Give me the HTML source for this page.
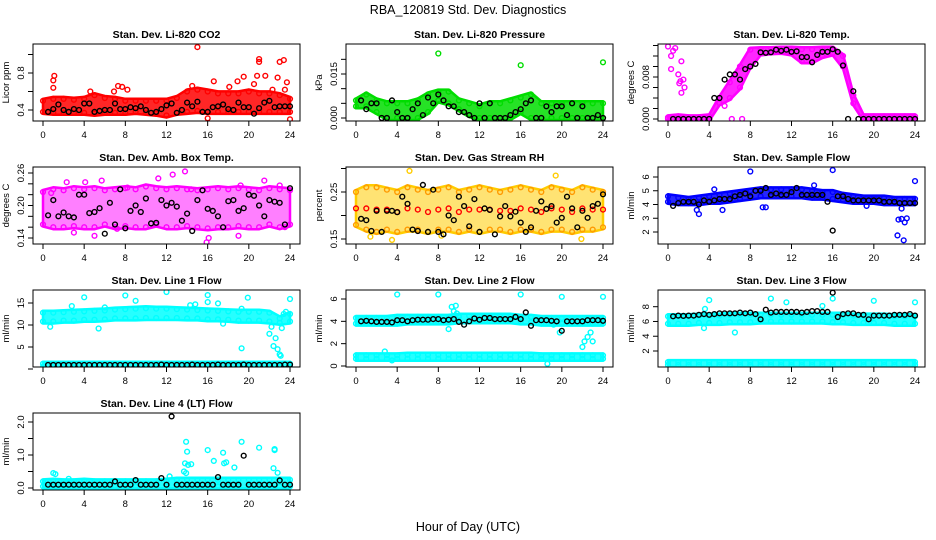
<!DOCTYPE html>
<html><head><meta charset="utf-8"><title>RBA_120819 Std. Dev. Diagnostics</title>
<style>
html,body{margin:0;padding:0;background:#fff;}
svg{display:block;font-family:"Liberation Sans",sans-serif;}
</style></head>
<body>
<svg id="chart" width="936" height="540" viewBox="0 0 936 540" xmlns="http://www.w3.org/2000/svg">
<text x="468" y="14" text-anchor="middle" font-size="12.5">RBA_120819  Std. Dev. Diagnostics</text>
<text x="468" y="531" text-anchor="middle" font-size="12.5">Hour of Day (UTC)</text>
</svg>
<script>
// ---------- data ----------
const xTicks=[0,4,8,12,16,20,24];
const titles=["Stan. Dev. Li-820 CO2","Stan. Dev. Li-820 Pressure","Stan. Dev. Li-820 Temp.","Stan. Dev. Amb. Box Temp.","Stan. Dev. Gas Stream RH","Stan. Dev. Sample Flow","Stan. Dev. Line 1 Flow","Stan. Dev. Line 2 Flow","Stan. Dev. Line 3 Flow","Stan. Dev. Line 4 (LT) Flow"];
const yTitles=["Licor ppm","kPa","degrees C","degrees C","percent","ml/min","ml/min","ml/min","ml/min","ml/min"];
const yTicks=[[0.4,0.6,0.8,1.0],[0,0.005,0.01,0.015,0.02],[0,0.002,0.004,0.006,0.008,0.010,0.012,0.014],[0.14,0.16,0.18,0.20,0.22,0.24,0.26],[0.15,0.20,0.25,0.30],[2,3,4,5,6],[0,5,10,15],[0,2,4,6],[2,4,6,8],[0,0.5,1.0,1.5,2.0]];
const yTickLabels=[["0.4","","0.8",""],["0.000","","","0.015",""],["0.000","","","","0.008","","",""],["0.14","","","0.20","","","0.26"],["0.15","","0.25",""],["2","3","4","5","6"],["","5","10","15"],["0","2","4","6"],["2","4","6","8"],["0.0","","1.0","","2.0"]];
// hourly band envelopes (hour 0..24)
const bandLo=[
[0.38,0.37,0.37,0.37,0.37,0.36,0.37,0.37,0.37,0.38,0.37,0.36,0.34,0.37,0.38,0.39,0.38,0.38,0.38,0.38,0.38,0.38,0.38,0.38,0.38],
[0.004,0.004,0.002,0,0,0,0,0.002,0.006,0.005,0.003,0.001,0,0,0,0,0.002,0,0,0,0,0,0,0,0],
[0,0,0,0,0,0.003,0.004,0.006,0.010,0.0125,0.0127,0.0128,0.0125,0.0110,0.011,0.012,0.0125,0.010,0.003,0,0,0,0,0,0],
[0.165,0.16,0.16,0.162,0.16,0.16,0.165,0.16,0.162,0.16,0.16,0.165,0.16,0.16,0.162,0.16,0.158,0.16,0.16,0.162,0.16,0.16,0.165,0.16,0.165],
[0.18,0.17,0.165,0.17,0.165,0.17,0.17,0.165,0.17,0.17,0.165,0.17,0.165,0.17,0.17,0.165,0.17,0.17,0.165,0.17,0.17,0.165,0.17,0.17,0.175],
[4.2,4.1,4.1,4.1,4.2,4.2,4.3,4.4,4.5,4.6,4.6,4.6,4.6,4.6,4.5,4.5,4.4,4.3,4.2,4.2,4.2,4.1,4.1,4.1,4.1],
[10.8,10.8,11,11,11.2,11.2,11.3,11.5,11.5,11.5,11.6,11.6,11.6,11.6,11.5,11.5,11.3,11.3,11.2,11,11,11,10.8,10.5,10.8],
[3.8,3.8,3.8,3.8,3.8,3.9,3.9,3.9,3.9,3.9,4.0,4.0,4.0,4.0,4.0,4.0,3.9,3.9,3.8,3.8,3.8,3.8,3.8,3.8,3.8],
[5.7,5.7,5.7,5.8,5.8,5.8,5.9,5.9,5.9,6.0,6.0,6.0,6.0,6.0,6.0,6.0,5.9,5.9,5.8,5.8,5.8,5.8,5.7,5.7,5.7],
[0.05,0.05,0.05,0.05,0.05,0.05,0.05,0.05,0.05,0.05,0.05,0.05,0.05,0.05,0.05,0.05,0.05,0.05,0.05,0.05,0.05,0.05,0.05,0.05,0.05]];
const bandHi=[
[0.50,0.52,0.52,0.51,0.52,0.56,0.53,0.52,0.50,0.50,0.50,0.50,0.50,0.53,0.60,0.62,0.60,0.58,0.58,0.58,0.60,0.58,0.58,0.56,0.52],
[0.006,0.008,0.006,0.005,0.005,0.005,0.006,0.008,0.009,0.009,0.006,0.005,0.004,0.005,0.005,0.006,0.007,0.008,0.005,0.005,0.005,0.005,0.005,0.005,0.005],
[0.0003,0.0005,0.0003,0.0003,0.0005,0.004,0.007,0.010,0.0132,0.0133,0.0133,0.0134,0.0134,0.0133,0.0133,0.0134,0.0134,0.012,0.0045,0.0005,0.0005,0.0005,0.0005,0.0005,0.0005],
[0.225,0.23,0.228,0.232,0.23,0.232,0.228,0.23,0.232,0.23,0.235,0.232,0.23,0.232,0.23,0.228,0.23,0.232,0.23,0.232,0.23,0.228,0.232,0.23,0.228],
[0.25,0.26,0.26,0.255,0.25,0.26,0.255,0.25,0.255,0.26,0.25,0.255,0.26,0.255,0.25,0.255,0.26,0.255,0.25,0.26,0.255,0.25,0.26,0.255,0.25],
[4.6,4.5,4.4,4.5,4.6,4.7,4.8,4.9,5.0,5.1,5.1,5.1,5.1,5.1,5.0,4.9,4.9,4.7,4.6,4.5,4.5,4.5,4.4,4.4,4.4],
[12.8,12.8,12.9,13,13.1,13.2,13.3,13.5,13.6,13.7,13.8,13.7,13.7,13.6,13.5,13.4,13.3,13.2,13.1,13,13,13,12.8,11.5,12.5],
[4.3,4.3,4.3,4.3,4.4,4.4,4.4,4.4,4.4,4.4,4.5,4.5,4.5,4.5,4.5,4.5,4.4,4.4,4.3,4.3,4.3,4.3,4.3,4.3,4.3],
[6.7,6.7,6.7,6.8,6.8,6.8,6.9,6.9,6.9,6.9,6.9,6.9,6.9,6.9,6.9,6.9,6.9,6.9,6.8,6.8,6.8,6.8,6.7,6.7,6.7],
[0.2,0.22,0.2,0.2,0.22,0.2,0.2,0.2,0.2,0.2,0.2,0.2,0.22,0.25,0.25,0.25,0.25,0.25,0.25,0.25,0.25,0.25,0.25,0.25,0.25]];
// secondary low bands (only flow lines 1-3)
const band2Lo=[null,null,null,null,null,null,[0.5,0.5,0.5,0.5,0.5,0.5,0.5,0.5,0.5,0.5,0.5,0.5,0.5,0.5,0.5,0.5,0.5,0.5,0.5,0.5,0.5,0.5,0.5,0.5,0.5],[0.65,0.65,0.65,0.65,0.65,0.65,0.65,0.65,0.65,0.65,0.65,0.65,0.65,0.65,0.65,0.65,0.65,0.65,0.65,0.65,0.65,0.65,0.65,0.65,0.65],[0.1,0.1,0.1,0.1,0.1,0.1,0.1,0.1,0.1,0.1,0.1,0.1,0.1,0.1,0.1,0.1,0.1,0.1,0.1,0.1,0.1,0.1,0.1,0.1,0.1],null];
const band2Hi=[null,null,null,null,null,null,[1.2,1.2,1.2,1.2,1.2,1.2,1.2,1.2,1.2,1.2,1.2,1.2,1.2,1.2,1.2,1.2,1.2,1.2,1.2,1.2,1.2,1.2,1.2,1.2,1.2],[0.95,0.95,0.95,0.95,0.95,1.0,1.0,1.0,1.0,1.0,1.0,1.0,1.0,1.0,1.0,1.0,1.0,1.0,0.95,0.95,0.95,0.95,0.95,0.95,0.95],[0.5,0.5,0.5,0.5,0.5,0.5,0.5,0.5,0.5,0.5,0.5,0.5,0.5,0.5,0.5,0.5,0.5,0.5,0.5,0.5,0.5,0.5,0.5,0.5,0.5],null];
// outlier hours / values (coloured points)
const outX=[
[1,1.1,1.0,4.6,7.3,7.7,8.2,6.9,15.0,14.5,16.6,18.9,19.5,20.8,21.0,21.0,21.6,22.3,22.8,23.0,23.4,23.7,24,23.5,20.5,16.0,18.1],
[8,16,24],
[0,0.3,0.5,0.7,0.3,1.3,1.0,1.1,1.5,1.6,1.3,5.5,7.2,6.2,1.2],
[0.8,2.3,4.1,5.0,5.7,8.2,11.2,12.6,13.8,14.4,15.9,19.2,21.5,23.0,3.0,7.2,16.1,19,23.5],
[5.2,19.4,3.5,21.9,8.3,1.4],
[8,16,24,2.8,3,5.3,9.2,9.5,19.3,22.3,22.4,22.7,23,23.2,22.9,22.7,4.5,14.2],
[2.8,4,0.7,5.4,6,8,9,12,14.3,14.8,16,16,17,17.5,19.3,19.3,19.9,22,22.2,22.4,22.6,22.8,23,23.1,23.2,23.4,23.6,24],
[4,8,16,20,24,9.3,9.5,9.7,9.8,10,9.0,19.8,2.8,3.5,18.6,22,22.2,22.5,22.8,23,19.2],
[4,3.6,3.5,6.5,10,11.5,15,16,20,24],
[1.0,1.2,2.5,12.3,13.9,14,13.8,14.1,14.4,13.7,13.9,16,16.6,17.5,17.6,17.8,18.6,19.3,21,22.5,22.5,22.4,22.8]];
const outY=[
[0.72,0.77,0.64,0.60,0.66,0.65,0.62,0.60,1.08,0.66,0.71,0.71,0.76,0.77,0.95,0.92,0.77,0.62,0.75,0.92,0.94,0.70,0.30,0.62,0.68,0.31,0.65],
[0.022,0.018,0.019],
[0.0138,0.012,0.013,0.0135,0.0095,0.011,0.0085,0.0068,0.0075,0.006,0.005,0.0025,0,0,0.0072],
[0.223,0.243,0.243,0.144,0.246,0.233,0.25,0.257,0.263,0.23,0.132,0.237,0.246,0.237,0.15,0.157,0.14,0.144,0.16],
[0.295,0.285,0.148,0.15,0.157,0.155],
[6.4,6.5,5.7,3.6,3.3,3.6,3.8,3.8,3.9,1.75,2.9,2.95,2.7,3.0,1.4,3.7,5.1,5.4],
[14.3,16.3,9.6,9.2,14,16.7,15.5,17.5,14.5,14.7,16.8,15.2,14.9,10.3,4.7,13.7,16.2,8,9.6,5.2,7,4.5,3.3,3,9.3,12.5,13,15.9],
[6.4,6.4,6.4,6.2,6.2,5.3,4.9,5.4,4.7,4.4,3.3,3.0,1.3,0.5,0.2,1.7,2.2,2.6,3.0,2.2,3.7],
[8.9,7.7,5.1,4.5,9.1,8.6,8.1,9.1,8.8,8.6],
[0.45,0.42,0.28,0.35,1.4,1.1,0.75,0.7,0.72,0.5,0.45,1.15,0.82,1.07,0.75,0.78,0.62,1.4,1.22,1.18,1.15,0.6,0.46]];
// black (mean) series, half-hourly 0.5..24
const blackY=[
[0.38,0.41,0.46,0.40,0.38,0.41,0.40,0.47,0.47,0.38,0.39,0.40,0.40,0.47,0.41,0.41,0.43,0.42,0.44,0.40,0.37,0.38,0.41,0.45,0.47,0.37,0.40,0.48,0.44,0.49,0.38,0.38,0.43,0.44,0.46,0.41,0.40,0.48,0.43,0.43,0.36,0.42,0.48,0.50,0.43,0.44,0.44,0.44],
[0.006,0.003,0.005,0.005,0,0,0.006,0.002,0,0,0.003,0.005,0.001,0.007,0.005,0.008,0.006,0.004,0.004,0.002,0.002,0.001,0,0.005,0,0.005,0,0,0,0.001,0.002,0.003,0.005,0.006,0,0,0.004,0.002,0.004,0.004,0.001,0.005,0,0.004,0,0,0.001,0],
[0,0,0,0,0,0,0,0,0.004,0.004,0.0075,0.0085,0.0085,0.0075,0.0095,0.01,0.0105,0.0127,0.0126,0.0127,0.0132,0.013,0.0132,0.0128,0.0129,0.0118,0.0118,0.0108,0.0122,0.0128,0.0128,0.0133,0.0128,0.0102,0,0.0053,0,0,0,0,0,0,0,0,0,0,0,0],
[0.182,0.21,0.18,0.187,0.18,0.178,0.22,0.22,0.186,0.188,0.195,0.148,0.205,0.165,0.23,0.158,0.19,0.2,0.188,0.213,0.167,0.168,0.21,0.2,0.205,0.198,0.172,0.185,0.153,0.21,0.228,0.194,0.19,0.18,0.16,0.208,0.21,0.19,0.195,0.22,0.218,0.2,0.18,0.21,0.207,0.205,0.165,0.232],
[0.193,0.19,0.167,0.21,0.165,0.21,0.21,0.207,0.24,0.225,0.17,0.167,0.265,0.165,0.255,0.165,0.16,0.2,0.19,0.24,0.22,0.177,0.235,0.165,0.215,0.212,0.16,0.198,0.22,0.198,0.208,0.185,0.165,0.175,0.21,0.23,0.214,0.22,0.185,0.195,0.24,0.215,0.175,0.21,0.195,0.22,0.225,0.245],
[3.9,4.1,4.2,4.2,4.2,4.0,4.3,4.2,4.3,4.4,4.4,4.4,4.6,4.7,4.8,4.6,5.0,5.0,5.2,4.7,4.8,4.7,4.7,4.9,5.2,4.7,4.7,4.7,4.7,4.7,4.2,2.1,4.6,4.6,4.4,4.3,4.3,4.3,4.3,4.3,4.3,4.2,4.2,4.2,4.1,4.1,4.1,4.1],
[0.9,0.9,0.9,0.9,0.9,0.9,0.9,0.9,0.9,0.9,0.9,0.9,0.9,0.9,0.9,0.9,0.9,0.9,0.9,0.9,0.9,0.9,1.0,0.9,0.9,0.9,0.9,0.9,1.0,0.9,0.9,0.9,0.9,1.0,0.9,0.9,0.9,0.9,1.0,0.9,0.9,0.9,0.9,0.9,0.9,0.9,1.0,1.0],
[4.0,4.05,4.0,3.95,3.95,3.95,3.9,4.1,4.1,4.0,4.1,4.15,4.15,4.15,4.2,4.2,4.1,4.15,4.2,3.95,3.7,4.0,4.25,4.15,4.3,4.3,4.2,4.2,4.2,4.2,4.4,4.2,4.8,3.6,4.1,4.1,4.1,4.05,4.0,3.15,4.0,4.0,4.0,4.0,4.1,4.1,4.1,4.05],
[6.7,6.8,6.75,6.8,6.8,6.9,7.0,6.9,7.0,7.1,7.1,7.1,7.1,7.2,7.1,7.2,7.0,6.3,7.6,7.2,7.3,7.3,7.3,7.3,7.3,7.2,7.3,7.4,7.4,7.3,7.3,9.9,6.6,7.0,7.1,7.1,6.9,6.9,6.3,6.8,6.8,6.8,6.8,6.9,6.9,6.9,7.0,6.8],
[0.1,0.1,0.1,0.1,0.1,0.1,0.1,0.1,0.1,0.1,0.1,0.1,0.1,0.2,0.1,0.1,0.1,0.24,0.1,0.1,0.1,0.1,0.3,0.1,2.17,0.1,0.1,0.1,0.1,0.1,0.1,0.1,0.1,0.33,0.1,0.1,0.1,0.1,0.98,0.1,0.1,0.1,0.1,0.1,0.1,0.23,0.1,0.1]];
// ---------- layout (not data) ----------
const colors=["#ff0000","#00dd00","#ff00ff","#ff00ff","#ff9900","#0000ff","#00ffff","#00ffff","#00ffff","#00ffff"];
const bandOpacity=[0.85,0.85,0.85,0.5,0.55,0.85,0.85,0.85,0.85,0.85];
const boxL=[33,346,658], boxW=267;
const boxT=[44,167,290,413], boxH=77;
// y calibration: [value0, pixel0, value1, pixel1]
const ycal=[[0.4,110,0.8,73],[0,118,0.015,74],[0,119,0.008,77],[0.14,238,0.26,173],[0.15,239,0.25,192],[2,232,6,177],[5,347,15,303],[0,366,6,299],[2,351,8,306.7],[0,488,2.0,422]];
const NS="http://www.w3.org/2000/svg";
const svg=document.getElementById('chart');
function mk(tag,attrs,parent){const e=document.createElementNS(NS,tag);for(const k in attrs)e.setAttribute(k,attrs[k]);(parent||svg).appendChild(e);return e;}
function circ(g,x,y,c,name){const e=mk('circle',{cx:x.toFixed(1),cy:y.toFixed(1),r:2.4,fill:'none',stroke:c,'stroke-width':1.4},g);

}
for(let p=0;p<10;p++){
  const col=p%3,row=Math.floor(p/3);
  const L=boxL[col],T=boxT[row],B=T+boxH,R=L+boxW;
  const xs=h=>L+10+h*(247/24);
  const c=ycal[p]; const ys=v=>c[1]+(v-c[0])*(c[3]-c[1])/(c[2]-c[0]);
  const g=mk('g',{});
  
  
  const clipId='clip'+p;
  const cp=mk('clipPath',{id:clipId},g); mk('rect',{x:L,y:T,width:boxW,height:boxH},cp);
  const t=mk('text',{x:L+boxW/2,y:T-6,'text-anchor':'middle','font-size':10.5,'font-weight':'bold'},g); t.textContent=titles[p];
  
  
  const yt=mk('text',{transform:`translate(${L-24},${T+boxH/2}) rotate(-90)`,'text-anchor':'middle','font-size':9.5},g); yt.textContent=yTitles[p];
  
  
  const plot=mk('g',{'clip-path':`url(#${clipId})`},g);
  
  
  const bands=[[bandLo[p],bandHi[p]],[band2Lo[p],band2Hi[p]]];
  bands.forEach(([lo,hi])=>{
    if(!lo)return;
    let pts=[];
    hi.forEach((v,i)=>pts.push(xs(i).toFixed(1)+','+(ys(v)-2).toFixed(1)));
    for(let i=lo.length-1;i>=0;i--)pts.push(xs(i).toFixed(1)+','+(ys(lo[i])+2).toFixed(1));
    const poly=mk('polygon',{points:pts.join(' '),fill:colors[p],'fill-opacity':bandOpacity[p],stroke:colors[p],'stroke-width':2.5,'stroke-linejoin':'round'},plot);
    
    
    if(p===4){poly.setAttribute('fill','#ffcc00');poly.setAttribute('stroke','#ffcc00');}
    for(let i=0;i<lo.length;i++){circ(plot,xs(i),ys(lo[i]),colors[p],'band-point');circ(plot,xs(i),ys(hi[i]),colors[p],'band-point');}
  });
  if(p===4){
    for(let i=0;i<bandLo[4].length;i++){const m=(bandLo[4][i]+bandHi[4][i])/2;circ(plot,xs(i),ys(m),'#ff0000','rh-point');}
  }
  outX[p].forEach((h,i)=>circ(plot,xs(h),ys(outY[p][i]),p===4?'#ffcc00':colors[p],'outlier-point'));
  const bn=blackY[p].length;
  blackY[p].forEach((v,i)=>circ(plot,xs(0.5+i*23.5/(bn-1)),ys(v),'#000','mean-point'));
  const box=mk('rect',{x:L,y:T,width:boxW,height:boxH,fill:'none',stroke:'#000','stroke-width':1},g);
  
  
  xTicks.forEach(h=>{
    const x=xs(h);
    mk('line',{x1:x,y1:B,x2:x,y2:B+5,stroke:'#000'},g);
    const tl=mk('text',{x:x,y:B+17,'text-anchor':'middle','font-size':9.5},g); tl.textContent=h;
    
    
  });
  yTicks[p].forEach((v,i)=>{
    const y=ys(v); if(y<T-2||y>B+3)return;
    mk('line',{x1:L-5,y1:y,x2:L,y2:y,stroke:'#000'},g);
    const s=yTickLabels[p][i]; if(!s)return;
    const tl=mk('text',{transform:`translate(${L-9},${y}) rotate(-90)`,'text-anchor':'middle','font-size':9.5},g); tl.textContent=s;
    
    
  });
}
</script>
</body></html>
